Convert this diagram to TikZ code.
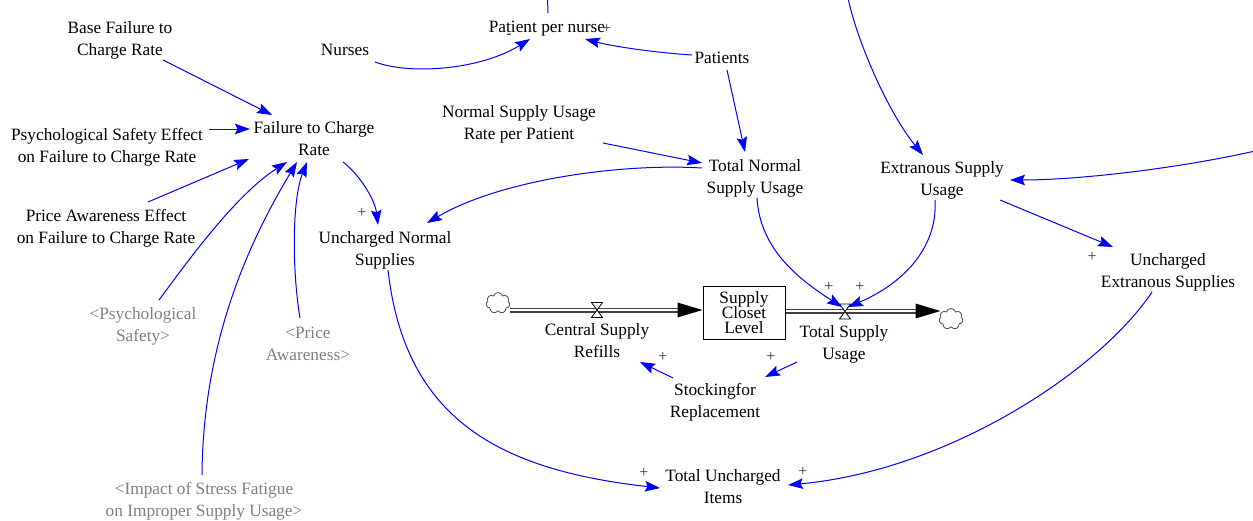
\documentclass[tikz,border=0pt]{standalone}
\usepackage{fontspec}
\setmainfont{Liberation Serif}
\usetikzlibrary{arrows.meta,calc,shapes.symbols}
\definecolor{linkblue}{RGB}{0,0,255}
\definecolor{shadowgray}{RGB}{128,128,128}
\newcommand\vstrut{\rule{0pt}{16pt}}
\newcommand\tightlines{\fontsize{17.3}{15}\selectfont\lineskiplimit=-50pt\relax}
\begin{document}
\begin{tikzpicture}[x=1pt,y=-1pt,
  var/.style={anchor=north, align=center, inner sep=0pt, outer sep=0pt,
    font=\fontsize{17.3}{22.5}\selectfont},
  shadow/.style={var, text=shadowgray},
  wire/.style={draw=linkblue, line width=1pt},
  link/.style={wire, -{Stealth[length=15pt,width=10.5pt,inset=2.5pt]}},
  pol/.style={inner sep=0pt, font=\fontsize{16}{16}\selectfont, text=black!80},
  pipe/.style={draw=black!75, line width=1.3pt, double=white, double distance=2.4pt},
  valve/.style={draw=black, line width=0.8pt, fill=white},
  cloudy/.style={cloud, cloud puffs=7, draw=black!70, line width=0.8pt,
    minimum width=24pt, minimum height=21pt, inner sep=0pt},
  level/.style={draw=black, line width=1pt, minimum width=82pt, minimum height=53pt,
    inner sep=0pt, align=center, font=\tightlines}
]
\fill[white] (0,0) rectangle (1253,520);
\useasboundingbox (0,0) rectangle (1253,520);

% auxiliary variables
\node[var] (base) at (120,17) {\vstrut Base Failure to\\Charge Rate};
\node[var] (nurses) at (345,39) {\vstrut Nurses};
\node[var] (ppn) at (547,16) {\vstrut Patient per nurse};
\node[var] (patients) at (722,47) {\vstrut Patients};
\node[var] (fail) at (314,117) {\vstrut Failure to Charge\\Rate};
\node[var] (psy) at (107,124) {\vstrut Psychological Safety Effect\\on Failure to Charge Rate};
\node[var] (nsur) at (519,101) {\vstrut Normal Supply Usage\\Rate per Patient};
\node[var] (tnsu) at (755,155) {\vstrut Total Normal\\Supply Usage};
\node[var] (esu) at (942,157) {\vstrut Extranous Supply\\Usage};
\node[var] (pae) at (106,205) {\vstrut Price Awareness Effect\\on Failure to Charge Rate};
\node[var] (ucn) at (385,227) {\vstrut Uncharged Normal\\Supplies};
\node[var] (uce) at (1168,249) {\vstrut Uncharged\\Extranous Supplies};
\node[var] (stocking) at (715,379) {\vstrut Stockingfor\\Replacement};
\node[var] (tui) at (723,465) {\vstrut Total Uncharged\\Items};

% shadow variables
\node[shadow] (gpsy) at (143,303) {\vstrut <Psychological\\Safety>};
\node[shadow] (gprice) at (308,322) {\vstrut <Price\\Awareness>};
\node[shadow] (gimpact) at (204,478) {\vstrut <Impact of Stress Fatigue\\on Improper Supply Usage>};

% stock and flows
\node[level] (stock) at (744,312.5) {Supply\\Closet\\Level};
\node[cloudy] (src) at (498,303) {};
\node[cloudy] (snk) at (951,319) {};
\coordinate (v1) at (597,310);
\coordinate (v2) at (845,311.5);

\draw[pipe] ($(src.center)+(12,7)$) -- ($(stock.west)+(-24,-2.5)$);
\fill[black] ($(stock.west)+(0,-2.5)$) -- ($(stock.west)+(-25,-10)$) -- ($(stock.west)+(-25,5)$) -- cycle;
\draw[pipe] ($(stock.east)+(0,-1.5)$) -- ($(stock.east)+(131,-1.5)$);
\fill[black] ($(stock.east)+(155,-1.5)$) -- ($(stock.east)+(130,-9)$) -- ($(stock.east)+(130,6)$) -- cycle;

\draw[valve] ($(v1)+(-5.5,-7.5)$) -- ($(v1)+(5.5,-7.5)$) -- ($(v1)+(-5.5,7.5)$) -- ($(v1)+(5.5,7.5)$) -- cycle;
\draw[valve] ($(v2)+(-5.5,-7.5)$) -- ($(v2)+(5.5,-7.5)$) -- ($(v2)+(-5.5,7.5)$) -- ($(v2)+(5.5,7.5)$) -- cycle;

\node[var] (csr) at (597,319) {\vstrut Central Supply\\Refills};
\node[var] (tsu) at (844,321) {\vstrut Total Supply\\Usage};

% causal links
\draw[link] ($(base.north)+(43,43)$) -- ($(fail.north)+(-42,-2)$);
\draw[link] ($(psy.north)+(102,5)$) -- ($(fail.north)+(-64,12)$);
\draw[link] ($(pae.north)+(42,-3)$) -- ($(fail.north)+(-65,42)$);
\draw[link] ($(gpsy.north)+(16,-3)$) .. controls (185,265) and (235,195) .. ($(fail.north)+(-27,45)$);
\draw[link] ($(gimpact.north)+(-2,-3)$) .. controls (203,340) and (250,240) .. ($(fail.north)+(-17,45)$);
\draw[link] ($(gprice.north)+(-8,-4)$) .. controls (292,270) and (292,200) .. ($(fail.north)+(-7,45)$);
\draw[link] ($(fail.north)+(29,45)$) .. controls (360,175) and (375,200) .. ($(ucn.north)+(-7,-2)$);
\draw[link] ($(tnsu.north)+(-53,13)$) .. controls (620,163) and (500,180) .. ($(ucn.north)+(42,-4)$);
\draw[link] ($(ucn.north)+(3,43)$) .. controls (405,420) and (500,470) .. ($(tui.north)+(-63,23)$);
\draw[link] ($(nurses.north)+(30,23)$) .. controls (410,75) and (480,70) .. ($(ppn.north)+(-17,23)$);
\draw[link] ($(patients.north)+(-30,8)$) .. controls (660,53) and (615,47) .. ($(ppn.north)+(38,23)$);
\draw[wire] ($(ppn.north)+(1,-3)$) -- ($(ppn.north)+(0.5,-18)$);
\draw[link] ($(patients.north)+(5,23)$) -- ($(tnsu.north)+(-10,-3)$);
\draw[link] ($(nsur.north)+(84,42)$) -- ($(tnsu.north)+(-53,8)$);
\coordinate (topin) at (848,-2);
\draw[link] (topin) .. controls (858,45) and (890,115) .. ($(esu.north)+(-19,-2)$);
\coordinate (rightin) at (1255,151);
\draw[link] (rightin) .. controls (1180,168) and (1080,180) .. ($(esu.north)+(68,23)$);
\draw[link] ($(esu.north)+(58,43)$) -- ($(uce.north)+(-55,-2)$);
\draw[link] ($(uce.north)+(-16,43)$) .. controls (1100,370) and (950,470) .. ($(tui.north)+(65,20)$);
\draw[link] ($(tnsu.north)+(2,43)$) .. controls (760,250) and (800,280) .. ($(v2)+(-3,-4.5)$);
\draw[link] ($(esu.north)+(-7,43)$) .. controls (938,250) and (900,285) .. ($(v2)+(3,-4.5)$);
\draw[link] ($(tsu.north)+(-47,41)$) -- ($(stocking.north)+(50,-2)$);
\draw[link] ($(stocking.north)+(-42,-1)$) -- ($(csr.north)+(43,43)$);

% link polarities
\node[pol] (s1) at (509,36) {-};
\node[pol] (s2) at (607,29) {+};
\node[pol] (s3) at (362,213) {+};
\node[pol] (s4) at (1092,257) {+};
\node[pol] (s5) at (829,287) {+};
\node[pol] (s6) at (860,287) {+};
\node[pol] (s7) at (663,357) {+};
\node[pol] (s8) at (771,357) {+};
\node[pol] (s9) at (644,473) {+};
\node[pol] (s10) at (803,472) {+};
\end{tikzpicture}
\end{document}
